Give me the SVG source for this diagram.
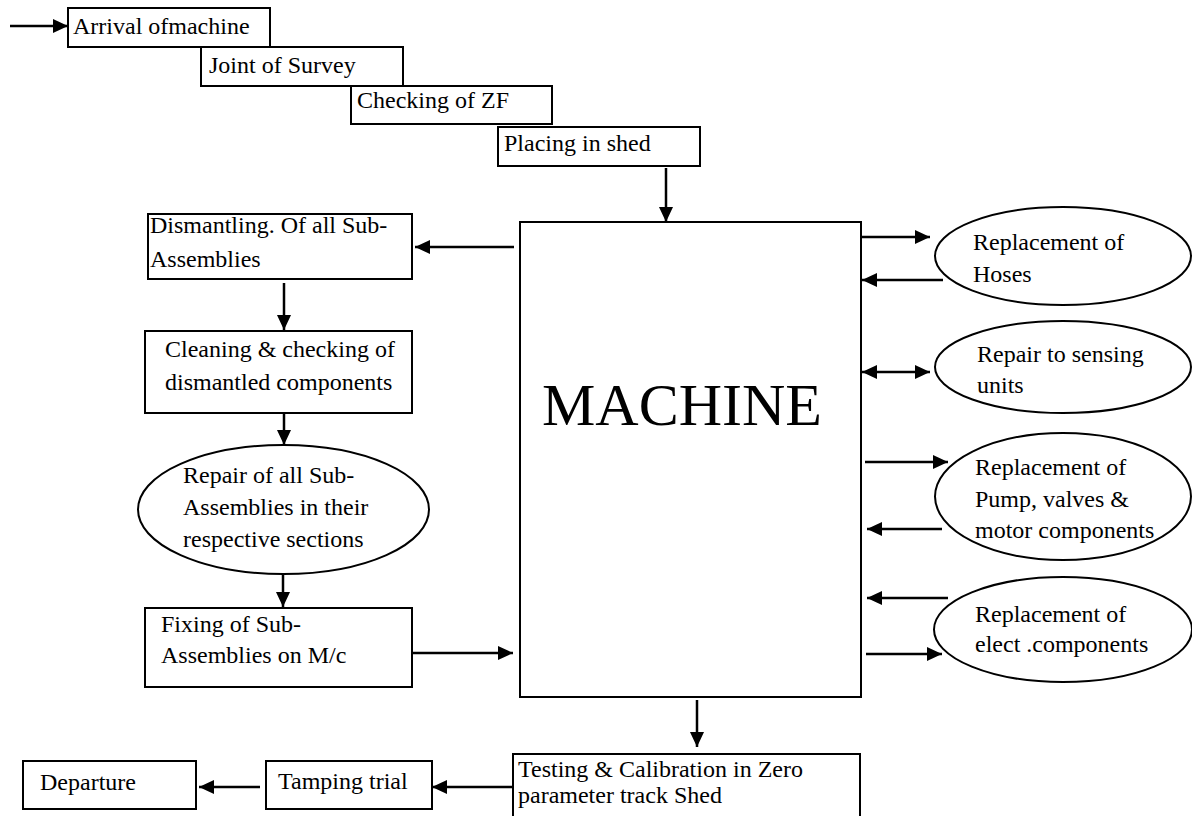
<svg xmlns="http://www.w3.org/2000/svg" width="1192" height="816" viewBox="0 0 1192 816">
<defs>
<marker id="ah" markerUnits="userSpaceOnUse" markerWidth="16" markerHeight="14" refX="15" refY="7" orient="auto-start-reverse">
<path d="M0,0 L15,7 L0,14 Z" fill="#000"/>
</marker>
<style>
.box{fill:#fff;stroke:#000;stroke-width:2}
.t{font-family:"Liberation Serif","Times New Roman",serif;font-size:24px;fill:#000}
.big{font-family:"Liberation Serif","Times New Roman",serif;font-size:60px;fill:#000}
.c{stroke:#000;stroke-width:2.5;fill:none;marker-end:url(#ah)}
.cb{stroke:#000;stroke-width:2.5;fill:none;marker-end:url(#ah);marker-start:url(#ah)}
</style>
</defs>
<rect width="1192" height="816" fill="#fff"/>

<g id="arrival"><rect class="box" x="68" y="8" width="202" height="39"/><text class="t" x="73" y="34">Arrival ofmachine</text></g>
<g id="joint"><rect class="box" x="201" y="47" width="202" height="39"/><text class="t" x="209" y="73">Joint of Survey</text></g>
<g id="checking"><rect class="box" x="351" y="86" width="201" height="38"/><text class="t" x="357" y="108">Checking of ZF</text></g>
<g id="placing"><rect class="box" x="498" y="127" width="202" height="39"/><text class="t" x="504" y="151">Placing in shed</text></g>

<g id="machine"><rect class="box" x="520" y="222" width="341" height="475"/><text class="big" x="542" y="425">MACHINE</text></g>

<g id="dismantling"><rect class="box" x="148" y="214" width="264" height="65"/><text class="t" x="150" y="233">Dismantling. Of all Sub-</text><text class="t" x="150" y="267">Assemblies</text></g>
<g id="cleaning"><rect class="box" x="145" y="331" width="267" height="82"/><text class="t" x="165" y="357">Cleaning &amp; checking of</text><text class="t" x="165" y="390">dismantled components</text></g>
<g id="repair"><ellipse class="box" cx="283.5" cy="509.5" rx="145.5" ry="64.5"/><text class="t" x="183" y="483">Repair of all Sub-</text><text class="t" x="183" y="515">Assemblies in their</text><text class="t" x="183" y="547">respective sections</text></g>
<g id="fixing"><rect class="box" x="145" y="608" width="267" height="79"/><text class="t" x="161" y="632">Fixing of Sub-</text><text class="t" x="161" y="663">Assemblies on M/c</text></g>

<g id="hoses"><ellipse class="box" cx="1063" cy="256" rx="128" ry="49"/><text class="t" x="973" y="250">Replacement of</text><text class="t" x="973" y="282">Hoses</text></g>
<g id="sensing"><ellipse class="box" cx="1063" cy="367" rx="128" ry="46"/><text class="t" x="977" y="362">Repair to sensing</text><text class="t" x="977" y="393">units</text></g>
<g id="pump"><ellipse class="box" cx="1063" cy="496.5" rx="128" ry="63.5"/><text class="t" x="975" y="475">Replacement of</text><text class="t" x="975" y="507">Pump, valves &amp;</text><text class="t" x="975" y="538">motor components</text></g>
<g id="elect"><ellipse class="box" cx="1063" cy="629.5" rx="129" ry="52.5"/><text class="t" x="975" y="622">Replacement of</text><text class="t" x="975" y="652">elect .components</text></g>

<g id="testing"><rect class="box" x="513" y="754" width="347" height="66"/><text class="t" x="518" y="777">Testing &amp; Calibration in Zero</text><text class="t" x="518" y="803">parameter track Shed</text></g>
<g id="tamping"><rect class="box" x="266" y="761" width="166" height="48"/><text class="t" x="278" y="789">Tamping trial</text></g>
<g id="departure"><rect class="box" x="23" y="761" width="173" height="48"/><text class="t" x="40" y="790">Departure</text></g>

<g id="connectors">
<line class="c" x1="10" y1="26" x2="68" y2="26"/>
<line class="c" x1="666" y1="168" x2="666" y2="222"/>
<line class="c" x1="514" y1="247" x2="415" y2="247"/>
<line class="c" x1="284" y1="283" x2="284" y2="330"/>
<line class="c" x1="284" y1="413" x2="284" y2="445"/>
<line class="c" x1="283" y1="574" x2="283" y2="607"/>
<line class="c" x1="413" y1="653" x2="513" y2="653"/>
<line class="c" x1="861" y1="237" x2="930" y2="237"/>
<line class="c" x1="943" y1="280" x2="862" y2="280"/>
<line class="cb" x1="862" y1="372" x2="930" y2="372"/>
<line class="c" x1="865" y1="462" x2="948" y2="462"/>
<line class="c" x1="942" y1="529" x2="867" y2="529"/>
<line class="c" x1="948" y1="598" x2="867" y2="598"/>
<line class="c" x1="866" y1="654" x2="942" y2="654"/>
<line class="c" x1="697" y1="700" x2="697" y2="747"/>
<line class="c" x1="513" y1="787" x2="432" y2="787"/>
<line class="c" x1="260" y1="787" x2="199" y2="787"/>
</g>
</svg>
